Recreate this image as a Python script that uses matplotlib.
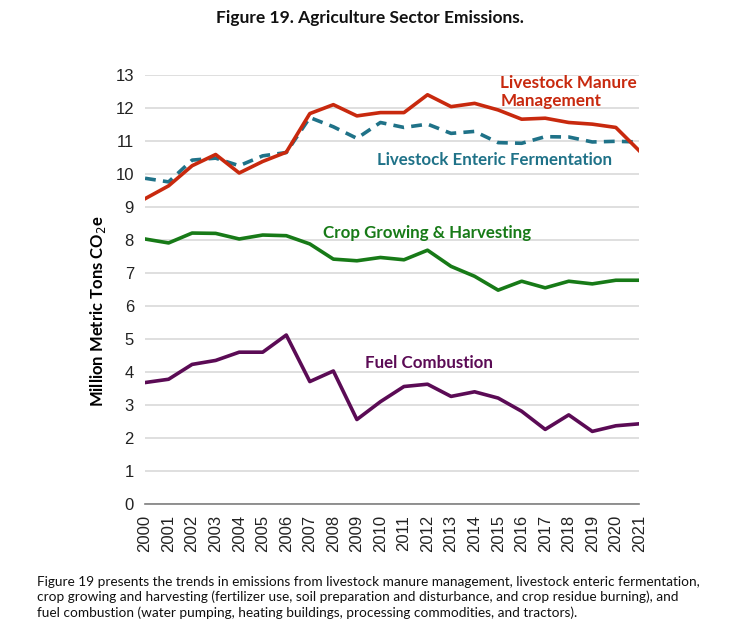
import matplotlib.pyplot as plt

years = list(range(2000, 2022))

manure = [9.25, 9.64, 10.25, 10.59, 10.03, 10.38, 10.66, 11.83, 12.1, 11.76, 11.86,
          11.86, 12.4, 12.04, 12.14, 11.94, 11.66, 11.69, 11.56, 11.51, 11.41, 10.7]
enteric = [9.87, 9.76, 10.42, 10.48, 10.25, 10.55, 10.65, 11.71, 11.43, 11.08, 11.56,
           11.41, 11.51, 11.23, 11.29, 10.95, 10.93, 11.13, 11.12, 10.97, 10.99, 10.97]
crop = [8.03, 7.91, 8.21, 8.2, 8.03, 8.15, 8.13, 7.88, 7.42, 7.37, 7.47,
        7.4, 7.69, 7.2, 6.9, 6.48, 6.75, 6.55, 6.75, 6.67, 6.78, 6.78]
fuel = [3.68, 3.78, 4.23, 4.35, 4.6, 4.6, 5.12, 3.71, 4.03, 2.56, 3.1,
        3.56, 3.63, 3.26, 3.4, 3.21, 2.81, 2.26, 2.7, 2.2, 2.37, 2.43]

c_manure = '#C8290E'
c_enteric = '#1F7288'
c_crop = '#177A17'
c_fuel = '#5B0B55'

bold_font = ['Lato', 'DejaVu Sans']
tick_font = ['Liberation Sans', 'DejaVu Sans']

fig = plt.figure(figsize=(7.4, 6.3), dpi=100)
ax = fig.add_axes([0.196, 0.2, 0.668, 0.681])

ax.plot(years, manure, color=c_manure, lw=2.6, zorder=4)
ax.plot(years, enteric, color=c_enteric, lw=2.6, ls=(0, (3, 2)), zorder=3)
ax.plot(years, crop, color=c_crop, lw=2.6, zorder=3)
ax.plot(years, fuel, color=c_fuel, lw=2.6, zorder=3)

ax.set_xlim(2000, 2021)
ax.set_ylim(0, 13)
ax.set_yticks(range(0, 14))
ax.set_xticks(years)
ax.set_xticklabels([str(y) for y in years], rotation=90, family=tick_font, fontsize=12, color='#222222')
for lab in ax.get_yticklabels():
    lab.set_family(tick_font)
    lab.set_fontsize(12)
    lab.set_color('#222222')
ax.tick_params(length=0, pad=8)
ax.grid(axis='y', color='#D9D9D9', lw=1.2)
ax.set_axisbelow(True)
for s in ['top', 'right', 'left']:
    ax.spines[s].set_visible(False)
ax.spines['bottom'].set_color('#7F7F7F')
ax.spines['bottom'].set_linewidth(1.2)

ax.set_ylabel('Million Metric Tons CO$_2$e', family=bold_font, fontweight='bold', fontsize=12)
ax.yaxis.set_label_coords(-0.075, 0.45)

# series labels
ax.text(2015.1, 12.47, 'Livestock Manure\nManagement', color=c_manure, family=bold_font,
        fontweight='bold', fontsize=12.3, ha='left', va='center', linespacing=1.15)
ax.text(2009.85, 10.42, 'Livestock Enteric Fermentation', color=c_enteric, family=bold_font,
        fontweight='bold', fontsize=12.2, ha='left', va='center')
ax.text(2007.57, 8.21, 'Crop Growing & Harvesting', color=c_crop, family=bold_font,
        fontweight='bold', fontsize=12.2, ha='left', va='center')
ax.text(2009.35, 4.27, 'Fuel Combustion', color=c_fuel, family=bold_font,
        fontweight='bold', fontsize=12.2, ha='left', va='center')

fig.text(0.5, 0.971, 'Figure 19. Agriculture Sector Emissions.', ha='center', va='center',
         family=bold_font, fontweight='bold', fontsize=12.5, color='#111111')

caption = ('Figure 19 presents the trends in emissions from livestock manure management, livestock enteric fermentation,\n'
           'crop growing and harvesting (fertilizer use, soil preparation and disturbance, and crop residue burning), and\n'
           'fuel combustion (water pumping, heating buildings, processing commodities, and tractors).')
fig.text(0.05, 0.052, caption, ha='left', va='center', family=['Lato', 'DejaVu Sans'],
         fontsize=9.85, color='#111111', linespacing=1.3)

fig.savefig('out.png', dpi=100)
